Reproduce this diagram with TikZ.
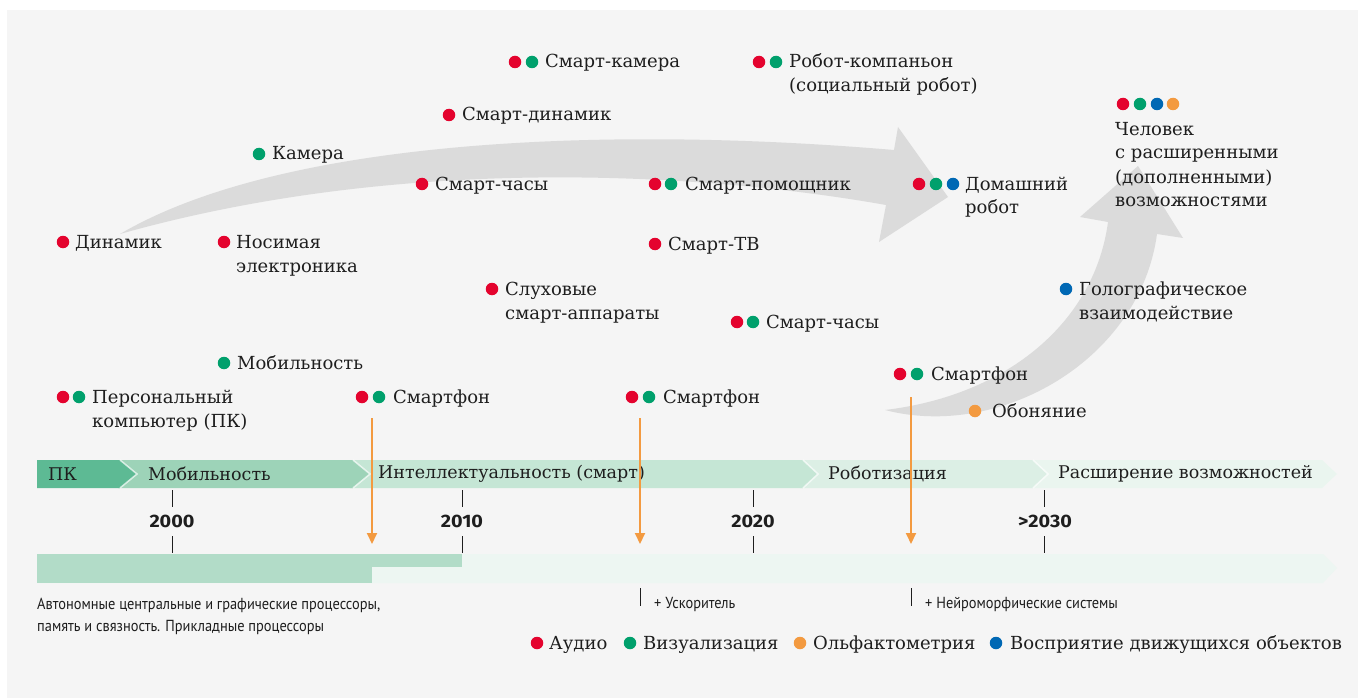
\documentclass[tikz,border=0pt]{standalone}
\usepackage{fontspec}
\setmainfont{DejaVu Serif}
\newfontfamily\condsans[FakeStretch=0.9]{PT Sans}
\newfontfamily\yearfont[FakeStretch=1.1]{Fira Sans}
\usetikzlibrary{arrows.meta}
\definecolor{bg}{HTML}{F5F5F5}
\definecolor{cred}{HTML}{E4032E}
\definecolor{cgreen}{HTML}{00A06C}
\definecolor{cblue}{HTML}{0068B4}
\definecolor{corange}{HTML}{F39A40}
\definecolor{txt}{HTML}{1E1E1E}
\definecolor{agray}{HTML}{DBDBDB}
\definecolor{segA}{HTML}{5DBA94}
\definecolor{segB}{HTML}{9DD3B8}
\definecolor{segC}{HTML}{C5E6D5}
\definecolor{segD}{HTML}{DCEFE5}
\definecolor{segE}{HTML}{EAF5EF}
\definecolor{barD}{HTML}{B2DCC8}
\definecolor{barL}{HTML}{EDF6F2}
\tikzset{
  dot/.style={circle, inner sep=0pt, minimum size=12.5pt},
  rd/.style={dot, fill=cred},
  gd/.style={dot, fill=cgreen},
  bd/.style={dot, fill=cblue},
  od/.style={dot, fill=corange},
  lbl/.style={anchor=base west, inner sep=0pt, align=left, text=txt},
  seglbl/.style={anchor=west, inner sep=0pt, text=txt, font=\fontsize{17.5}{24}\selectfont},
  year/.style={inner sep=0pt, text=txt, font=\yearfont\bfseries\fontsize{18}{20}\selectfont},
  note/.style={anchor=base west, inner sep=0pt, align=left, text=txt, font=\condsans\fontsize{16}{22}\selectfont},
  tick/.style={draw=txt, line width=1pt},
  orarrow/.style={draw=corange, line width=2pt, -{Triangle[length=11pt,width=10pt]}},
  segsep/.style={draw=white, line width=1.5pt, opacity=0.7}
}
\begin{document}
\begin{tikzpicture}[x=1pt, y=-1pt, font=\fontsize{18}{24}\selectfont]
\useasboundingbox (0,0) rectangle (1358,698);
\fill[white] (0,0) rectangle (1358,698);
\fill[bg] (7,10) rectangle (1358,698);

% big grey arrows
\fill[agray] (120,234) .. controls (280,140) and (600,125) .. (894,150)
  -- (898,127) -- (948,197) -- (879,242) -- (886,205)
  .. controls (700,172) and (400,155) .. (120,234) -- cycle;
\fill[agray] (885,410) .. controls (1000,440) and (1140,360) .. (1157,234)
  -- (1183,238) -- (1138,166) -- (1080,217) -- (1108,222)
  .. controls (1095,320) and (1010,395) .. (885,410) -- cycle;

% timeline chevrons
\fill[segE] (1030,460) -- (1322,460) -- (1337,474) -- (1322,488) -- (1030,488) -- cycle;
\fill[segD] (800,460) -- (1033,460) -- (1048,474) -- (1033,488) -- (800,488) -- cycle;
\draw[segsep] (1033,460) -- (1048,474) -- (1033,488);
\fill[segC] (350,460) -- (803,460) -- (818,474) -- (803,488) -- (350,488) -- cycle;
\draw[segsep] (803,460) -- (818,474) -- (803,488);
\fill[segB] (118,460) -- (353,460) -- (370,474) -- (353,488) -- (118,488) -- cycle;
\draw[segsep] (353,460) -- (370,474) -- (353,488);
\fill[segA] (37,460) -- (120,460) -- (137,474) -- (120,488) -- (37,488) -- cycle;
\draw[segsep] (120,460) -- (137,474) -- (120,488);
\node[seglbl] (sPK) at (48,474) {ПК};
\node[seglbl] (sMob) at (148,474) {Мобильность};
\node[seglbl] (sInt) at (378,474) {Интеллектуальность (смарт)};
\node[seglbl] (sRob) at (828,474) {Роботизация};
\node[seglbl] (sExt) at (1058,474) {Расширение возможностей};

% ticks and years
\foreach \x in {172,462,753,1044}{
  \draw[tick] (\x,490) -- (\x,507);
  \draw[tick] (\x,536) -- (\x,553);
}
\node[year] (y2000) at (172,521) {2000};
\node[year] (y2010) at (462,521) {2010};
\node[year] (y2020) at (753,521) {2020};
\node[year] (y2030) at (1045,521) {>2030};

% bottom bar
\fill[barL] (37,554) -- (1323,554) -- (1337,568) -- (1323,583) -- (37,583) -- cycle;
\fill[barD] (37,554) rectangle (462,567);
\fill[barD] (37,567) rectangle (372,583);
\draw[tick] (640,588) -- (640,606);
\draw[tick] (911,588) -- (911,606);
\node[note] (n1) at (37,631) {Автономные центральные и графические процессоры,\\память и связность. Прикладные процессоры};
\node[note] (n2) at (654,608) {+ Ускоритель};
\node[note] (n3) at (925,608) {+ Нейроморфические системы};

% orange arrows
\coordinate (oa1) at (372,418); \coordinate (ob1) at (372,544);
\coordinate (oa2) at (640,418); \coordinate (ob2) at (640,544);
\coordinate (oa3) at (911,397); \coordinate (ob3) at (911,544);
\draw[orarrow] (oa1) -- (ob1);
\draw[orarrow] (oa2) -- (ob2);
\draw[orarrow] (oa3) -- (ob3);

% items
\node[rd] (d1) at (63,242) {};
\node[lbl] (t1) at (75,248) {Динамик};
\node[rd] (d2) at (224,242) {};
\node[lbl] (t2) at (236,272) {Носимая\\электроника};
\node[gd] (d3) at (259,154) {};
\node[lbl] (t3) at (272,160) {Камера};
\node[rd] (d4) at (422,184) {};
\node[lbl] (t4) at (435,190) {Смарт-часы};
\node[rd] (d5) at (449,115) {};
\node[lbl] (t5) at (462,121) {Смарт-динамик};
\node[rd] (d6a) at (515,62) {};
\node[gd] (d6b) at (532,62) {};
\node[lbl] (t6) at (545,68) {Смарт-камера};
\node[rd] (d7a) at (759,62) {};
\node[gd] (d7b) at (776,62) {};
\node[lbl] (t7) at (789,92) {Робот-компаньон\\(социальный робот)};
\node[rd] (d8a) at (655,184) {};
\node[gd] (d8b) at (671,184) {};
\node[lbl] (t8) at (685,190) {Смарт-помощник};
\node[rd] (d9) at (655,244) {};
\node[lbl] (t9) at (668,250) {Смарт-ТВ};
\node[rd] (d10) at (492,289) {};
\node[lbl] (t10) at (505,319) {Слуховые\\смарт-аппараты};
\node[rd] (d11a) at (737,322) {};
\node[gd] (d11b) at (753,322) {};
\node[lbl] (t11) at (766,328) {Смарт-часы};
\node[rd] (d12a) at (919,184) {};
\node[gd] (d12b) at (936,184) {};
\node[bd] (d12c) at (953,184) {};
\node[lbl] (t12) at (965,214) {Домашний\\робот};
\node[rd] (d13a) at (1123,104) {};
\node[gd] (d13b) at (1140,104) {};
\node[bd] (d13c) at (1157,104) {};
\node[od] (d13d) at (1173,104) {};
\node[lbl] (t13) at (1115,207) {Человек\\с расширенными\\(дополненными)\\возможностями};
\node[bd] (d14) at (1066,289) {};
\node[lbl] (t14) at (1079,319) {Голографическое\\взаимодействие};
\node[rd] (d15a) at (900,374) {};
\node[gd] (d15b) at (917,374) {};
\node[lbl] (t15) at (931,380) {Смартфон};
\node[od] (d16) at (975,411) {};
\node[lbl] (t16) at (992,417) {Обоняние};
\node[gd] (d17) at (224,363) {};
\node[lbl] (t17) at (237,369) {Мобильность};
\node[rd] (d18a) at (63,397) {};
\node[gd] (d18b) at (79,397) {};
\node[lbl] (t18) at (92,427) {Персональный\\компьютер (ПК)};
\node[rd] (d19a) at (362,397) {};
\node[gd] (d19b) at (379,397) {};
\node[lbl] (t19) at (393,403) {Смартфон};
\node[rd] (d20a) at (632,397) {};
\node[gd] (d20b) at (649,397) {};
\node[lbl] (t20) at (663,403) {Смартфон};

% legend
\node[rd] (l1) at (537,643) {};
\node[lbl] (lt1) at (549,649) {Аудио};
\node[gd] (l2) at (630,643) {};
\node[lbl] (lt2) at (643,649) {Визуализация};
\node[od] (l3) at (800,643) {};
\node[lbl] (lt3) at (813,649) {Ольфактометрия};
\node[bd] (l4) at (996,643) {};
\node[lbl] (lt4) at (1010,649) {Восприятие движущихся объектов};
\end{tikzpicture}
\end{document}
